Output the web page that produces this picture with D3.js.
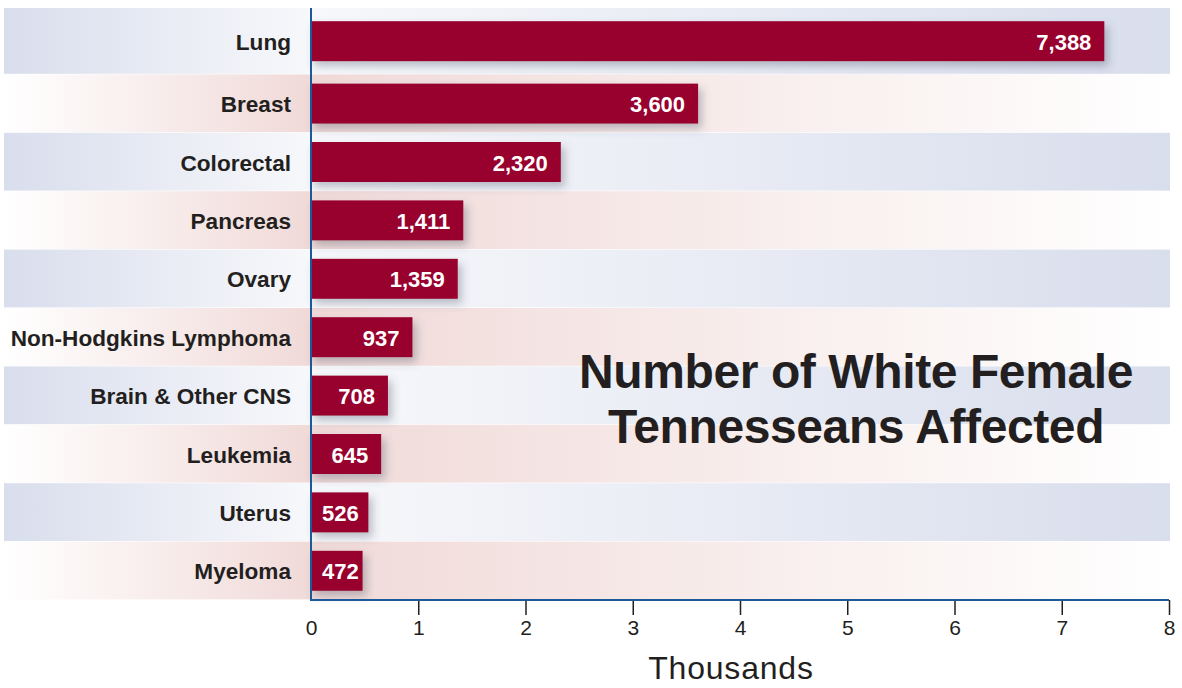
<!DOCTYPE html>
<html>
<head>
<meta charset="utf-8">
<script src="https://cdn.jsdelivr.net/npm/d3@7"></script>
<style>
  html, body { margin: 0; padding: 0; background: #ffffff; }
  svg { display: block; }
  text { font-family: "Liberation Sans", Arial, Helvetica, sans-serif; }
</style>
</head>
<body>
<svg id="chart" width="1182" height="688"></svg>
<script>
// ---- data ----
const categories = ["Lung", "Breast", "Colorectal", "Pancreas", "Ovary",
  "Non-Hodgkins Lymphoma", "Brain & Other CNS", "Leukemia", "Uterus", "Myeloma"];
const values = [7388, 3600, 2320, 1411, 1359, 937, 708, 645, 526, 472];
const tickValues = [0, 1, 2, 3, 4, 5, 6, 7, 8];
const titleLines = ["Number of White Female", "Tennesseans Affected"];
const axisTitle = "Thousands";

// ---- layout ----
const x0 = 311, x1 = 1169, yTop = 8, yBot = 600;
const bandLeft = 4, bandRight = 1170;

const svg = d3.select("#chart");
const defs = svg.append("defs");

const axisFrac = (x0 - bandLeft) / (bandRight - bandLeft);

const gBlue = defs.append("linearGradient").attr("id", "gBlue")
  .attr("gradientUnits", "userSpaceOnUse")
  .attr("x1", bandLeft).attr("x2", bandRight).attr("y1", 0).attr("y2", 0);
gBlue.append("stop").attr("offset", 0).attr("stop-color", "#d9deed");
gBlue.append("stop").attr("offset", axisFrac).attr("stop-color", "#f7f8fb");
gBlue.append("stop").attr("offset", 1).attr("stop-color", "#d9deed");

const gPink = defs.append("linearGradient").attr("id", "gPink")
  .attr("gradientUnits", "userSpaceOnUse")
  .attr("x1", bandLeft).attr("x2", bandRight).attr("y1", 0).attr("y2", 0);
gPink.append("stop").attr("offset", 0).attr("stop-color", "#ffffff");
gPink.append("stop").attr("offset", axisFrac).attr("stop-color", "#f0dad8");
gPink.append("stop").attr("offset", 1).attr("stop-color", "#ffffff");

const shadow = defs.append("filter").attr("id", "shadow")
  .attr("x", "-10%").attr("y", "-30%").attr("width", "130%").attr("height", "180%");
shadow.append("feDropShadow")
  .attr("dx", 4).attr("dy", 5).attr("stdDeviation", 4)
  .attr("flood-color", "#4a5068").attr("flood-opacity", 0.35);

// ---- scales ----
const x = d3.scaleLinear().domain([0, 8]).range([x0, x1]);
const y = d3.scaleBand().domain(categories).range([16, yBot]).padding(0);

const data = categories.map((c, i) => {
  const top = i === 0 ? yTop : y(c);
  const bottom = y(c) + y.step();
  return { cat: c, val: values[i] / 1000, raw: values[i], i, top, bottom, mid: (top + bottom) / 2 };
});

// ---- bands ----
svg.append("g").selectAll("rect").data(data).join("rect")
  .attr("x", bandLeft)
  .attr("y", d => d.top)
  .attr("width", bandRight - bandLeft)
  .attr("height", d => d.bottom - d.top - 0.6)
  .attr("fill", d => d.i % 2 === 0 ? "url(#gBlue)" : "url(#gPink)");

// ---- bars ----
const barH = 40;
svg.append("g").selectAll("rect").data(data).join("rect")
  .attr("x", x(0) - 1)
  .attr("y", d => d.mid - barH / 2)
  .attr("width", d => x(d.val) - x(0) + 2)
  .attr("height", barH)
  .attr("fill", "#98002e")
  .attr("filter", "url(#shadow)");

// ---- value labels ----
const fmt = d3.format(",");
const valSize = 22;
svg.append("g").selectAll("text").data(data).join("text")
  .attr("text-anchor", "end")
  .attr("fill", "#ffffff")
  .attr("font-weight", "bold")
  .attr("font-size", valSize)
  .attr("y", d => d.mid + 8.5)
  .text(d => fmt(d.raw))
  .attr("x", function(d) {
    const w = this.getComputedTextLength();
    return Math.max(x(d.val) - 12, x(0) + 11 + w);
  });

// ---- category labels ----
svg.append("g").selectAll("text").data(data).join("text")
  .attr("x", 291)
  .attr("y", d => d.mid + 8.5)
  .attr("text-anchor", "end")
  .attr("fill", "#231f20")
  .attr("font-weight", "bold")
  .attr("font-size", 22.6)
  .text(d => d.cat);

// ---- x axis ----
const axis = d3.axisBottom(x).tickValues(tickValues).tickSize(15).tickPadding(5)
  .tickFormat(d3.format("d"));
const gx = svg.append("g").attr("transform", `translate(0,${yBot})`).call(axis);
gx.select(".domain").remove();
gx.selectAll(".tick line").attr("stroke", "#231f20").attr("stroke-width", 1.5)
  .attr("display", d => d === 0 ? "none" : null);
gx.selectAll(".tick text").attr("fill", "#231f20").attr("font-size", 21)
  .attr("font-family", "'Liberation Sans', Arial, sans-serif");

// axis lines (blue)
svg.append("line").attr("x1", x(0)).attr("x2", x(8)).attr("y1", yBot).attr("y2", yBot)
  .attr("stroke", "#1a5a9a").attr("stroke-width", 2);
svg.append("line").attr("x1", x(0)).attr("x2", x(0)).attr("y1", yTop).attr("y2", yBot + 1)
  .attr("stroke", "#1a5a9a").attr("stroke-width", 2);

// ---- axis title ----
svg.append("text")
  .attr("x", 731).attr("y", 679)
  .attr("text-anchor", "middle")
  .attr("fill", "#231f20")
  .attr("font-size", 32)
  .attr("letter-spacing", 0.8)
  .text(axisTitle);

// ---- chart title ----
const tt = svg.append("text")
  .attr("text-anchor", "middle")
  .attr("fill", "#231f20")
  .attr("font-weight", "bold")
  .attr("font-size", 48)
  .attr("letter-spacing", -0.4);
tt.selectAll("tspan").data(titleLines).join("tspan")
  .attr("x", 856)
  .attr("y", (d, i) => 388 + i * 55)
  .text(d => d);
</script>
</body>
</html>
